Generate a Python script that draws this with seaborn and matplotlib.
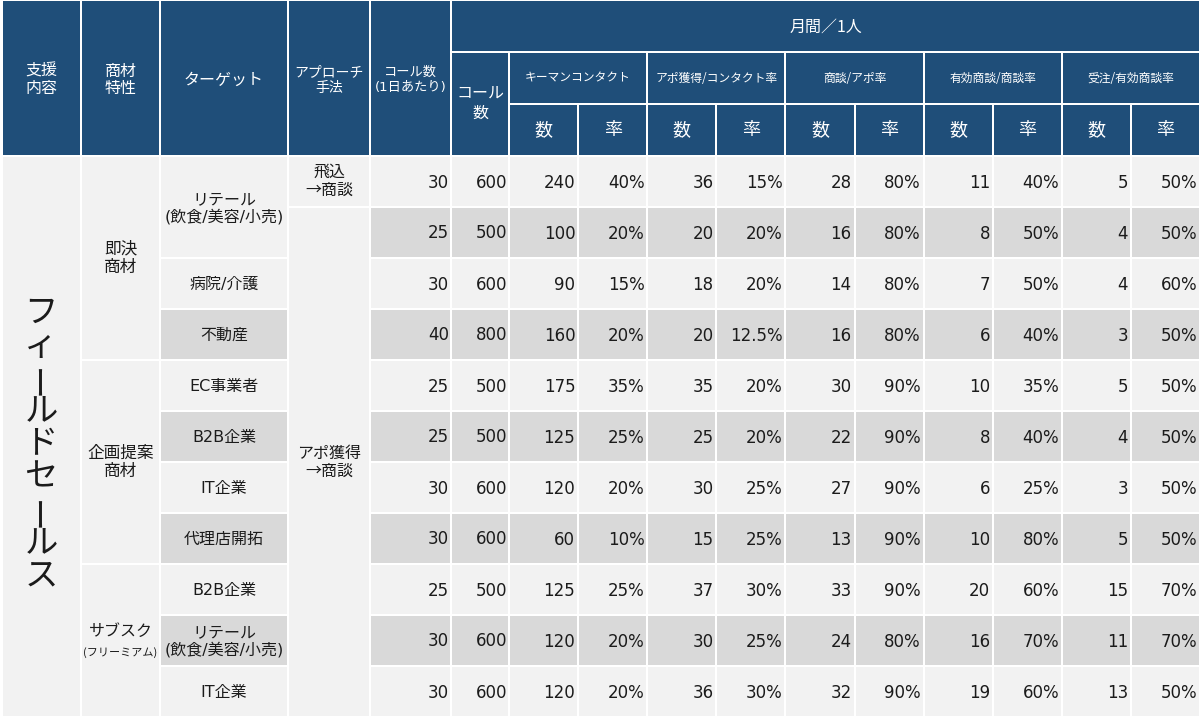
import numpy as np
import pandas as pd
import matplotlib
matplotlib.use("Agg")
import matplotlib.pyplot as plt
from matplotlib.patches import Rectangle
from matplotlib.colors import ListedColormap
import seaborn as sns

# ---- data ----
support_label = "フィールドセールス"

product_groups = ["即決\n商材", "企画提案\n商材", "サブスク"]
product_notes = ["", "", "(フリーミアム)"]
product_spans = [4, 4, 3]

targets = ["リテール\n(飲食/美容/小売)", "病院/介護", "不動産", "EC事業者", "B2B企業",
           "IT企業", "代理店開拓", "B2B企業", "リテール\n(飲食/美容/小売)", "IT企業"]
target_spans = [2, 1, 1, 1, 1, 1, 1, 1, 1, 1]

approaches = ["飛込\n→商談", "アポ獲得\n→商談"]
approach_spans = [1, 10]

calls_per_day = [30, 25, 30, 40, 25, 25, 30, 30, 25, 30, 30]
calls_month = [600, 500, 600, 800, 500, 500, 600, 600, 500, 600, 600]

keyman_n = [240, 100, 90, 160, 175, 125, 120, 60, 125, 120, 120]
keyman_rate = [40, 20, 15, 20, 35, 25, 20, 10, 25, 20, 20]
appo_n = [36, 20, 18, 20, 35, 25, 30, 15, 37, 30, 36]
appo_rate = [15, 20, 20, 12.5, 20, 20, 25, 25, 30, 25, 30]
meeting_n = [28, 16, 14, 16, 30, 22, 27, 13, 33, 24, 32]
meeting_rate = [80, 80, 80, 80, 90, 90, 90, 90, 90, 80, 90]
valid_n = [11, 8, 7, 6, 10, 8, 6, 10, 20, 16, 19]
valid_rate = [40, 50, 50, 40, 35, 40, 25, 80, 60, 70, 60]
order_n = [5, 4, 4, 3, 5, 4, 3, 5, 15, 11, 13]
order_rate = [50, 50, 60, 50, 50, 50, 50, 50, 70, 70, 50]

left_headers = ["支援\n内容", "商材\n特性", "ターゲット", "アプローチ\n手法", "コール数\n(1日あたり)"]
month_header = "月間／1人"
call_header = "コール\n数"
stage_headers = ["キーマンコンタクト", "アポ獲得/コンタクト率", "商談/アポ率",
                 "有効商談/商談率", "受注/有効商談率"]
sub_headers = ["数", "率"]

# ---- style / layout ----
sns.set_theme(style="white")
JP = ["Noto Sans CJK JP", "DejaVu Sans"]
NUM = ["DejaVu Sans", "Noto Sans CJK JP"]
plt.rcParams["font.family"] = JP

HEAD = "#1F4E79"
LIGHT = "#F2F2F2"
DARK = "#D9D9D9"
INK = "#1b1b1b"

W, H = 1200, 723
col_x = [2, 81, 160, 288, 370, 451, 509]
metric_x0, metric_x1 = 509, 1200
head_y = [0, 52, 104, 156]
body_top, body_bot = 156, 717
n_rows = len(calls_per_day)
row_h = (body_bot - body_top) / n_rows
left_sizes = [11.5, 11.5, 11.5, 10, 9.5]

fig = plt.figure(figsize=(W / 100, H / 100), dpi=100)
fig.patch.set_facecolor("white")
ax = fig.add_axes([0, 0, 1, 1])
ax.set_xlim(0, W)
ax.set_ylim(H, 0)
ax.axis("off")


def cell(x0, x1, y0, y1, color, g=1.0):
    ax.add_patch(Rectangle((x0 + g, y0 + g), x1 - x0 - 2 * g, y1 - y0 - 2 * g,
                           facecolor=color, edgecolor="none", lw=0))


def row_y(i):
    return body_top + i * row_h


def shade(i):
    return DARK if i % 2 else LIGHT


# header cells
for k, lab in enumerate(left_headers):
    cell(col_x[k], col_x[k + 1], head_y[0], head_y[3], HEAD)
    ax.text((col_x[k] + col_x[k + 1]) / 2, 80, lab, ha="center", va="center",
            color="white", fontsize=left_sizes[k], linespacing=1.2, family=NUM)

cell(col_x[5], metric_x1, head_y[0], head_y[1], HEAD)
ax.text((col_x[5] + metric_x1) / 2, 27, month_header, ha="center", va="center",
        color="white", fontsize=11.5)

cell(col_x[5], col_x[6], head_y[1], head_y[3], HEAD)
ax.text((col_x[5] + col_x[6]) / 2, 104, call_header, ha="center", va="center",
        color="white", fontsize=11.5, linespacing=1.15)

mw = (metric_x1 - metric_x0) / (2 * len(stage_headers))
for k, lab in enumerate(stage_headers):
    x0 = metric_x0 + 2 * k * mw
    cell(x0, x0 + 2 * mw, head_y[1], head_y[2], HEAD)
    ax.text(x0 + mw, 78, lab, ha="center", va="center", color="white", fontsize=8.5)
    for s, sub in enumerate(sub_headers):
        xs = x0 + s * mw
        cell(xs, xs + mw, head_y[2], head_y[3], HEAD)
        ax.text(xs + mw / 2, 130, sub, ha="center", va="center", color="white",
                fontsize=13)

# support column (merged, vertical text)
cell(col_x[0], col_x[1], body_top, body_bot, LIGHT)
pitch = 33
y_start = 312
for k, ch in enumerate(support_label):
    yy = y_start + k * pitch
    rot = 90 if ch == "ー" else 0
    ax.text(41, yy, ch, ha="center", va="center", rotation=rot, fontsize=24,
            color=INK)

# product type column
r = 0
for lab, note, span in zip(product_groups, product_notes, product_spans):
    y0, y1 = row_y(r), row_y(r + span)
    cell(col_x[1], col_x[2], y0, y1, LIGHT)
    xc = (col_x[1] + col_x[2]) / 2
    if note:
        ax.text(xc, (y0 + y1) / 2 - 9, lab, ha="center", va="center", fontsize=11.5,
                color=INK)
        ax.text(xc, (y0 + y1) / 2 + 12, note, ha="center", va="center", fontsize=8,
                color=INK)
    else:
        ax.text(xc, (y0 + y1) / 2, lab, ha="center", va="center", fontsize=12,
                color=INK, linespacing=1.1)
    r += span

# target column
r = 0
for lab, span in zip(targets, target_spans):
    y0, y1 = row_y(r), row_y(r + span)
    cell(col_x[2], col_x[3], y0, y1, shade(r))
    ax.text((col_x[2] + col_x[3]) / 2, (y0 + y1) / 2 + 1, lab, ha="center",
            va="center", fontsize=11.5, color=INK, linespacing=1.1, family=NUM)
    r += span

# approach column
r = 0
for lab, span in zip(approaches, approach_spans):
    y0, y1 = row_y(r), row_y(r + span)
    cell(col_x[3], col_x[4], y0, y1, LIGHT)
    ax.text((col_x[3] + col_x[4]) / 2, (y0 + y1) / 2, lab, ha="center", va="center",
            fontsize=11.5, color=INK, linespacing=1.05)
    r += span

# call columns
for i in range(n_rows):
    y0, y1 = row_y(i), row_y(i + 1)
    for k, vals in ((4, calls_per_day), (5, calls_month)):
        cell(col_x[k], col_x[k + 1], y0, y1, shade(i))
        ax.text(col_x[k + 1] - 2, (y0 + y1) / 2 + 1, f"{vals[i]}", ha="right",
                va="center", fontsize=12, color=INK, family=NUM)

# metrics block as a seaborn heatmap
metric_cols = [keyman_n, keyman_rate, appo_n, appo_rate, meeting_n, meeting_rate,
               valid_n, valid_rate, order_n, order_rate]
labels = []
for j, vals in enumerate(metric_cols):
    if j % 2:
        labels.append([f"{v:g}%" for v in vals])
    else:
        labels.append([f"{v}" for v in vals])
labels = np.array(labels).T
shade_grid = pd.DataFrame(np.tile((np.arange(n_rows) % 2)[:, None], (1, len(metric_cols))))

hax = fig.add_axes([metric_x0 / W, 1 - body_bot / H, (metric_x1 - metric_x0) / W,
                    (body_bot - body_top) / H])
sns.heatmap(shade_grid, ax=hax, cmap=ListedColormap([LIGHT, DARK]), vmin=0, vmax=1,
            cbar=False, linewidths=1.2, linecolor="white", xticklabels=False,
            yticklabels=False)
for i in range(n_rows):
    for j in range(len(metric_cols)):
        hax.text(j + 0.96, i + 0.52, labels[i, j], ha="right", va="center",
                 fontsize=12, color=INK, family=NUM)

fig.savefig("out.png", dpi=100, facecolor="white")
